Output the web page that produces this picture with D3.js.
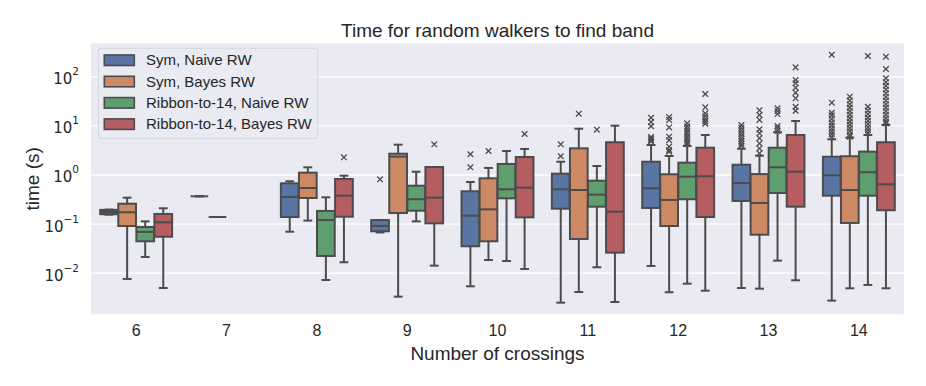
<!DOCTYPE html>
<html>
<head>
<meta charset="utf-8">
<script src="https://cdn.jsdelivr.net/npm/d3@7"></script>
<style>
  body { margin: 0; background: #ffffff; }
  svg { display: block; font-family: "Liberation Sans", Arial, sans-serif; }
</style>
</head>
<body>
<svg id="chart" width="926" height="386"></svg>
<script>
// ---------------- DATA ----------------
const categories = ["6", "7", "8", "9", "10", "11", "12", "13", "14"];
const hues = ["Sym, Naive RW", "Sym, Bayes RW", "Ribbon-to-14, Naive RW", "Ribbon-to-14, Bayes RW"];
const yTickValues = [1e-2, 1e-1, 1e0, 1e1, 1e2];
const yTickExponents = ["\u22122", "\u22121", "0", "1", "2"];
const yLimits = [0.00142, 470];

// per category: [lowerWhisker, q1, median, q3, upperWhisker]; null = no data
const symNaive = [
  [0.152, 0.155, 0.172, 0.19, 0.193],
  [0.36, 0.36, 0.36, 0.36, 0.36],
  [0.0684, 0.136, 0.348, 0.661, 0.726],
  [0.066, 0.0697, 0.0893, 0.118, 0.118],
  [0.00528, 0.0345, 0.145, 0.455, 0.703],
  [0.00245, 0.201, 0.499, 1.04, 1.82],
  [0.0137, 0.208, 0.524, 1.82, 3.99],
  [0.00488, 0.289, 0.671, 1.58, 3.35],
  [0.0027, 0.37, 0.962, 2.3, 5.21]
];
const symBayes = [
  [0.00745, 0.0893, 0.170, 0.254, 0.337],
  [0.136, 0.136, 0.136, 0.136, 0.136],
  [0.115, 0.332, 0.531, 1.09, 1.40],
  [0.00325, 0.164, 2.31, 2.65, 4.05],
  [0.0181, 0.0436, 0.195, 0.836, 1.36],
  [0.00404, 0.0486, 0.483, 3.41, 8.57],
  [0.00399, 0.0893, 0.303, 1.01, 2.38],
  [0.00473, 0.0594, 0.263, 1.02, 2.42],
  [0.00481, 0.103, 0.483, 2.35, 5.62]
];
const ribbonNaive = [
  [0.0209, 0.0436, 0.0675, 0.0853, 0.111],
  null,
  [0.0071, 0.0219, 0.118, 0.181, 0.343],
  [0.111, 0.183, 0.313, 0.591, 1.14],
  [0.0173, 0.327, 0.499, 1.64, 3.01],
  [0.0129, 0.221, 0.388, 0.748, 1.49],
  [0.00597, 0.313, 0.902, 1.74, 3.81],
  [0.0176, 0.42, 1.40, 3.51, 7.23],
  [0.00562, 0.37, 1.11, 2.92, 6.37]
];
const ribbonBayes = [
  [0.00488, 0.054, 0.106, 0.157, 0.205],
  null,
  [0.0163, 0.138, 0.37, 0.81, 0.946],
  [0.0139, 0.101, 0.337, 1.42, 1.42],
  [0.0119, 0.134, 0.539, 2.27, 3.31],
  [0.00253, 0.0256, 0.175, 4.53, 9.86],
  [0.0043, 0.136, 0.919, 3.51, 6.37],
  [0.007, 0.221, 1.14, 6.37, 12.3],
  [0.00481, 0.187, 0.631, 4.53, 10.2]
];

// outliers per category
const symNaiveFliers = [[], [], [], [0.798], [2.58, 1.40], [4.12, 2.35],
  [14.3, 11.7, 9.6, 5.8, 5.4, 5.0, 4.7],
  [10.2, 8.9, 7.8, 6.8, 6.0, 5.3, 4.7, 4.2, 3.8],
  [275, 29, 18.1, 16.0, 13.5, 11.5, 10.0, 8.6, 7.5, 6.6, 5.8]];
const symBayesFliers = [[], [], [], [], [3.01], [17.3],
  [14.8, 12.9, 9.1, 5.9, 5.0, 3.68, 3.15, 2.91],
  [20.3, 16.3, 12.9, 8.3, 6.9, 5.5, 4.3, 3.4, 2.7],
  [38.5, 32, 27, 23, 19.5, 16.5, 14, 12, 10.3, 8.8, 7.6, 6.5, 5.9]];
const ribbonNaiveFliers = [[], [], [], [], [], [8.18],
  [11.0, 9.6, 8.5, 7.6, 6.8, 6.0, 5.4, 4.9, 4.5, 4.2],
  [22.3, 19.7, 17.0, 9.7, 8.7, 7.8],
  [259, 24, 20, 17, 14.5, 12.5, 10.7, 9.2, 8.0, 7.0]];
const ribbonBayesFliers = [[], [], [2.24], [4.12], [6.68], [],
  [43.6, 23.3, 17.6, 15.5, 13.5, 12.0, 10.8],
  [152, 84, 72, 58.6, 46.4, 35.6, 24, 19.9],
  [251, 141, 91, 76, 64, 54, 45, 38, 32, 27, 23, 19.5, 16.5, 14, 12, 11]];

const title = "Time for random walkers to find band";
const xLabel = "Number of crossings";
const yLabel = "time (s)";

// ---------------- STYLE ----------------
const palette = ["#5875a4", "#cc8963", "#5f9e6e", "#b55d60"];
const edge = "#4c4c4c";
const bg = "#eaeaf2";
const textColor = "#262626";

const stats = [symNaive, symBayes, ribbonNaive, ribbonBayes];
const fliers = [symNaiveFliers, symBayesFliers, ribbonNaiveFliers, ribbonBayesFliers];

const svg = d3.select("#chart");
const plot = { left: 91, right: 904, top: 43.3, bottom: 314.3 };

const x = d3.scaleBand().domain(categories).range([plot.left, plot.right]).paddingInner(0).paddingOuter(0);
const hueScale = d3.scaleBand().domain(hues).range([0.1, 0.9].map(f => f * x.bandwidth()));
const y = d3.scaleLog().domain(yLimits).range([plot.bottom, plot.top]);

// background
svg.append("rect").attr("x", plot.left).attr("y", plot.top)
  .attr("width", plot.right - plot.left).attr("height", plot.bottom - plot.top)
  .attr("fill", bg);

// grid
const yAxis = d3.axisLeft(y).tickValues(yTickValues).tickSize(-(plot.right - plot.left)).tickFormat("");
const gy = svg.append("g").attr("transform", `translate(${plot.left},0)`).call(yAxis);
gy.select(".domain").remove();
gy.selectAll(".tick line").attr("stroke", "#ffffff").attr("stroke-width", 1.3);

// y tick labels
const yl = svg.append("g");
yTickValues.forEach((v, i) => {
  const t = yl.append("text").attr("x", plot.left - 12).attr("y", y(v) + 8)
    .attr("text-anchor", "end").attr("fill", textColor)
    .style("font-family", "'DejaVu Sans', sans-serif").style("font-size", "15px");
  t.append("tspan").text("10");
  t.append("tspan").attr("dy", -9).style("font-size", "10.5px").text(yTickExponents[i]);
});

// x tick labels
const xAxis = d3.axisBottom(x).tickSize(0).tickPadding(10);
const gx = svg.append("g").attr("transform", `translate(0,${plot.bottom})`).call(xAxis);
gx.select(".domain").remove();
gx.selectAll("text").attr("fill", textColor).style("font-size", "16px")
  .style("font-family", "'Liberation Sans', Arial, sans-serif");

// boxes
const boxW = hueScale.bandwidth() * 0.98;
const marks = svg.append("g");
categories.forEach((c, ci) => {
  hues.forEach((h, hi) => {
    const s = stats[hi][ci];
    const cx = x(c) + hueScale(h) + hueScale.bandwidth() / 2;
    const g = marks.append("g");
    if (s) {
      const [lo, q1, med, q3, hi2] = s;
      // whiskers
      g.append("line").attr("x1", cx).attr("x2", cx).attr("y1", y(q1)).attr("y2", y(lo))
        .attr("stroke", edge).attr("stroke-width", 2);
      g.append("line").attr("x1", cx).attr("x2", cx).attr("y1", y(q3)).attr("y2", y(hi2))
        .attr("stroke", edge).attr("stroke-width", 2);
      // caps
      [lo, hi2].forEach(v => {
        g.append("line").attr("x1", cx - boxW / 4).attr("x2", cx + boxW / 4)
          .attr("y1", y(v)).attr("y2", y(v)).attr("stroke", edge).attr("stroke-width", 2);
      });
      // box
      g.append("rect").attr("x", cx - boxW / 2).attr("width", boxW)
        .attr("y", y(q3)).attr("height", Math.max(0, y(q1) - y(q3)))
        .attr("fill", palette[hi]).attr("stroke", edge).attr("stroke-width", 2);
      // median
      g.append("line").attr("x1", cx - boxW / 2).attr("x2", cx + boxW / 2)
        .attr("y1", y(med)).attr("y2", y(med)).attr("stroke", edge).attr("stroke-width", 2);
    }
    // fliers
    fliers[hi][ci].forEach(v => {
      const fy = y(v), r = 2.8;
      g.append("path").attr("d", `M${cx - r},${fy - r}L${cx + r},${fy + r}M${cx - r},${fy + r}L${cx + r},${fy - r}`)
        .attr("stroke", edge).attr("stroke-width", 1.3).attr("fill", "none");
    });
  });
});

// legend
const leg = svg.append("g");
leg.append("rect").attr("x", 98.3).attr("y", 48.3).attr("width", 219.4).attr("height", 90)
  .attr("rx", 3).attr("fill", bg).attr("fill-opacity", 0.9).attr("stroke", "#d6d6de").attr("stroke-width", 1);
hues.forEach((h, i) => {
  const ly = 60 + i * 21.3;
  leg.append("rect").attr("x", 104.3).attr("y", ly - 5).attr("width", 30).attr("height", 10.5)
    .attr("fill", palette[i]).attr("stroke", edge).attr("stroke-width", 1.6);
  leg.append("text").attr("x", 146).attr("y", ly + 5.3).attr("fill", textColor)
    .style("font-size", "15px").text(h);
});

// title & labels
svg.append("text").attr("x", (plot.left + plot.right) / 2).attr("y", 36.5)
  .attr("text-anchor", "middle").attr("fill", textColor).style("font-size", "19px").text(title);
svg.append("text").attr("x", (plot.left + plot.right) / 2).attr("y", 360)
  .attr("text-anchor", "middle").attr("fill", textColor).style("font-size", "19px").text(xLabel);
svg.append("text").attr("transform", `translate(39,${(plot.top + plot.bottom) / 2}) rotate(-90)`)
  .attr("text-anchor", "middle").attr("fill", textColor).style("font-size", "19px").text(yLabel);
</script>
</body>
</html>
